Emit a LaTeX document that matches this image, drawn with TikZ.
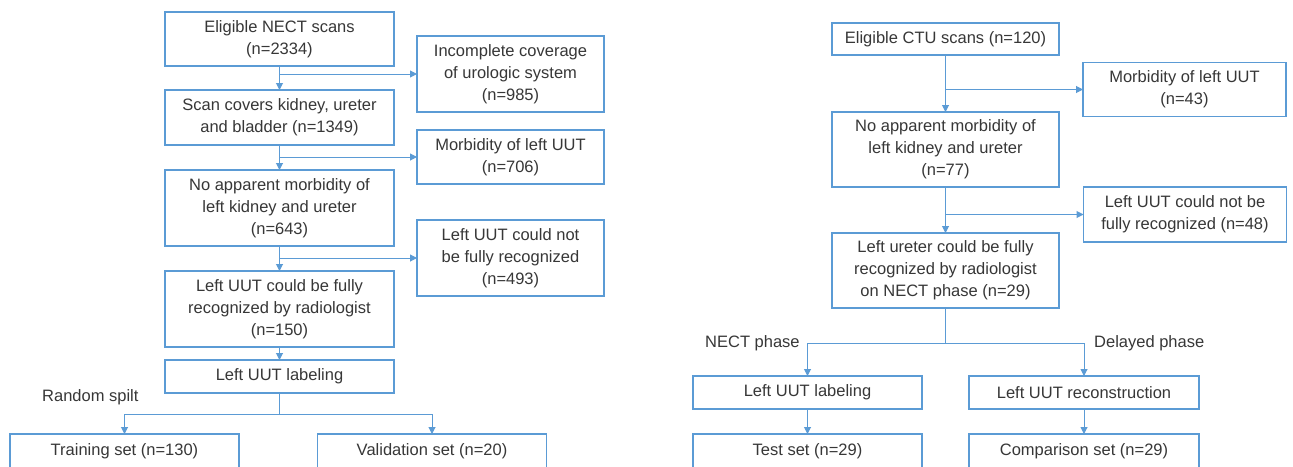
\documentclass[tikz,border=0pt]{standalone}
\usepackage{fontspec}
\setmainfont{Liberation Sans}
\usetikzlibrary{arrows.meta}
\definecolor{bblue}{RGB}{91,155,213}
\definecolor{txt}{RGB}{55,55,55}
\tikzset{
  box/.style={draw=bblue, line width=1.4pt, fill=white, align=center, text=txt,
    font=\fontsize{16.5}{22}\selectfont, inner sep=0pt, outer sep=0pt},
  lbl/.style={text=txt, font=\fontsize{16.5}{22}\selectfont, inner sep=0pt},
  conn/.style={draw=bblue, line width=1pt},
  arr/.style={conn, -{Triangle[length=7pt,width=7pt]}}
}
\begin{document}
\begin{tikzpicture}[x=1pt,y=-1pt]
\useasboundingbox (0,0) rectangle (1293,466);
\fill[white] (0,0) rectangle (1293,466);
\clip (0,0) rectangle (1293,466);

% ---- left flow ----
\node[box, minimum width=229pt, minimum height=54pt] (b1) at (279.5,39) {Eligible NECT scans\\(n=2334)};
\node[box, minimum width=229pt, minimum height=55pt] (b2) at (279.5,117.5) {Scan covers kidney, ureter\\and bladder (n=1349)};
\node[box, minimum width=229pt, minimum height=76pt] (b3) at (279.5,208) {No apparent morbidity of\\left kidney and ureter\\(n=643)};
\node[box, minimum width=229pt, minimum height=76pt] (b4) at (279.5,309) {Left UUT could be fully\\recognized by radiologist\\(n=150)};
\node[box, minimum width=229pt, minimum height=33pt] (b5) at (279.5,376.5) {Left UUT labeling};

\node[box, minimum width=187pt, minimum height=76pt] (r1) at (510.5,74) {Incomplete coverage\\of urologic system\\(n=985)};
\node[box, minimum width=187pt, minimum height=54pt] (r2) at (510.5,157) {Morbidity of left UUT\\(n=706)};
\node[box, minimum width=187pt, minimum height=76pt] (r3) at (510.5,258) {Left UUT could not\\be fully recognized\\(n=493)};

\node[box, minimum width=229pt, minimum height=35pt] (t1) at (124.5,451.5) {Training set (n=130)};
\node[box, minimum width=229pt, minimum height=35pt] (t2) at (432,451.5) {Validation set (n=20)};
\node[lbl, anchor=west] (rs) at (42,397) {Random spilt};

\draw[arr] (b1.south) -- (b2.north);
\draw[arr] (b1.south |- r1.west) -- (r1.west);
\draw[arr] (b2.south) -- (b3.north);
\draw[arr] (b2.south |- r2.west) -- (r2.west);
\draw[arr] (b3.south) -- (b4.north);
\draw[arr] (b3.south |- r3.west) -- (r3.west);
\draw[arr] (b4.south) -- (b5.north);
\coordinate (s1) at (279.5,414);
\draw[conn] (b5.south) -- (s1);
\draw[arr] (s1) -| (t1.north);
\draw[arr] (s1) -| (t2.north);

% ---- right flow ----
\node[box, minimum width=227pt, minimum height=32pt] (c1) at (945.5,39) {Eligible CTU scans (n=120)};
\node[box, minimum width=227pt, minimum height=75pt] (c2) at (945.5,149.5) {No apparent morbidity of\\left kidney and ureter\\(n=77)};
\node[box, minimum width=227pt, minimum height=75pt] (c3) at (945.5,270.5) {Left ureter could be fully\\recognized by radiologist\\on NECT phase (n=29)};

\node[box, minimum width=203pt, minimum height=54pt] (d1) at (1184.5,89.5) {Morbidity of left UUT\\(n=43)};
\node[box, minimum width=203pt, minimum height=55pt] (d2) at (1185,214.5) {Left UUT could not be\\fully recognized (n=48)};

\node[box, minimum width=229pt, minimum height=33pt] (e1) at (807.5,392.5) {Left UUT labeling};
\node[box, minimum width=230pt, minimum height=33pt] (e2) at (1084,392.5) {Left UUT reconstruction};
\node[box, minimum width=229pt, minimum height=35pt] (f1) at (807.5,451.5) {Test set (n=29)};
\node[box, minimum width=230pt, minimum height=35pt] (f2) at (1084,451.5) {Comparison set (n=29)};

\node[lbl, anchor=west] (np) at (705,343) {NECT phase};
\node[lbl, anchor=west] (dp) at (1094,343) {Delayed phase};

\draw[arr] (c1.south) -- (c2.north);
\draw[arr] (c1.south |- d1.west) -- (d1.west);
\draw[arr] (c2.south) -- (c3.north);
\draw[arr] (c2.south |- d2.west) -- (d2.west);
\coordinate (s2) at (945.5,343);
\draw[conn] (c3.south) -- (s2);
\draw[arr] (s2) -| (e1.north);
\draw[arr] (s2) -| (e2.north);
\draw[arr] (e1.south) -- (f1.north);
\draw[arr] (e2.south) -- (f2.north);
\end{tikzpicture}
\end{document}
